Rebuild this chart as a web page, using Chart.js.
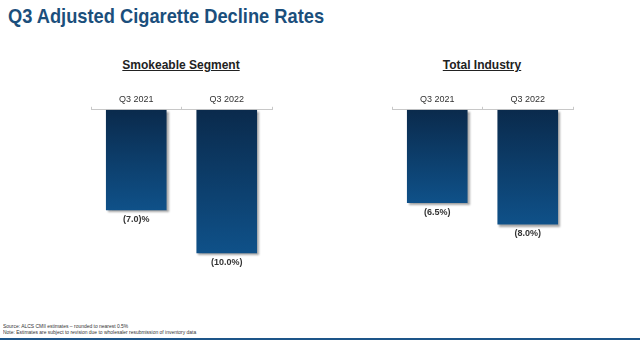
<!DOCTYPE html>
<html>
<head>
<meta charset="utf-8">
<script src="https://cdn.jsdelivr.net/npm/chart.js@4.4.0/dist/chart.umd.min.js"></script>
<style>
  body { margin: 0; width: 640px; height: 341px; position: relative; background: #fff; overflow: hidden;
         font-family: "Liberation Sans", Arial, sans-serif; }
  h1 { position: absolute; left: 8px; top: 4px; margin: 0; font-weight: bold; font-size: 21px;
       font-family: "Liberation Sans", Arial, sans-serif; color: #1b4f7c; white-space: nowrap;
       transform: scaleX(0.87); transform-origin: left top; }
  .sub { position: absolute; top: 58px; width: 200px; text-align: center; font-weight: bold; font-size: 12px;
         text-decoration: underline; color: #222; }
  .box { position: absolute; top: 92px; width: 201px; height: 190px; }
  .foot { position: absolute; left: 3px; top: 323px; font-size: 5.5px; line-height: 6.3px; color: #333; white-space: nowrap;
          transform: scaleX(0.9); transform-origin: left top; }
  .rule { position: absolute; left: 0; right: 0; top: 338px; height: 2px; background: #1d5589; }
</style>
</head>
<body>
<h1>Q3 Adjusted Cigarette Decline Rates</h1>
<div class="sub" style="left:81px">Smokeable Segment</div>
<div class="sub" style="left:382px">Total Industry</div>
<div class="box" style="left:81px"><canvas id="smokeableChart"></canvas></div>
<div class="box" style="left:382px"><canvas id="industryChart"></canvas></div>
<div class="foot">Source: ALCS CMII estimates – rounded to nearest 0.5%<br>Note: Estimates are subject to revision due to wholesaler resubmission of inventory data</div>
<div class="rule"></div>
<script>
var quarters = ['Q3 2021', 'Q3 2022'];
var smokeableValues = [-7.0, -10.0];
var smokeableLabels = ['(7.0)%', '(10.0%)'];
var industryValues = [-6.5, -8.0];
var industryLabels = ['(6.5%)', '(8.0%)'];

// vertical gradient from the zero line down to the end of each bar
function barGradient(context) {
    var chart = context.chart;
    if (!chart.chartArea) return '#0d3d69';
    var y0 = chart.scales.y.getPixelForValue(0);
    var y1 = chart.scales.y.getPixelForValue(context.raw);
    var g = chart.ctx.createLinearGradient(0, y0, 0, y1);
    g.addColorStop(0, '#0a2a4c');
    g.addColorStop(1, '#0f5189');
    return g;
}

var barShadow = {
    id: 'barShadow',
    beforeDatasetsDraw: function(chart) {
        var ctx = chart.ctx;
        ctx.save();
        ctx.shadowColor = 'rgba(0,0,0,0.35)';
        ctx.shadowOffsetX = 2;
        ctx.shadowOffsetY = 2;
        ctx.shadowBlur = 2;
    },
    afterDatasetsDraw: function(chart) {
        chart.ctx.restore();
    }
};

var valueLabels = {
    id: 'valueLabels',
    afterDraw: function(chart, args, opts) {
        var ctx = chart.ctx;
        var meta = chart.getDatasetMeta(0);
        ctx.save();
        ctx.font = 'bold 9px "Liberation Sans", Arial, sans-serif';
        ctx.fillStyle = '#333';
        ctx.textAlign = 'center';
        ctx.textBaseline = 'middle';
        meta.data.forEach(function(bar, i) {
            ctx.fillText(opts.text[i], bar.x, bar.y + 9);
        });
        ctx.restore();
    }
};

function makeChart(id, values, labels) {
    var ctx = document.getElementById(id).getContext('2d');
    return new Chart(ctx, {
        type: 'bar',
        data: {
            labels: quarters,
            datasets: [{
                data: values,
                backgroundColor: barGradient,
                borderWidth: 0,
                barPercentage: 0.67,
                categoryPercentage: 1
            }]
        },
        options: {
            responsive: true,
            maintainAspectRatio: false,
            animation: false,
            layout: { padding: { left: 10, right: 10, top: 0, bottom: 0 } },
            plugins: {
                legend: { display: false },
                tooltip: { enabled: false },
                valueLabels: { text: labels }
            },
            scales: {
                x: {
                    position: 'top',
                    grid: { drawOnChartArea: false, offset: true, tickLength: 3, color: '#c8c8c8' },
                    border: { color: '#c8c8c8' },
                    ticks: { color: '#333', padding: 2, font: { size: 9, family: '"Liberation Sans", Arial, sans-serif' } }
                },
                y: { display: false, min: -12, max: 0 }
            }
        },
        plugins: [barShadow, valueLabels]
    });
}

var smokeableChart = makeChart('smokeableChart', smokeableValues, smokeableLabels);
var industryChart = makeChart('industryChart', industryValues, industryLabels);
</script>
</body>
</html>
